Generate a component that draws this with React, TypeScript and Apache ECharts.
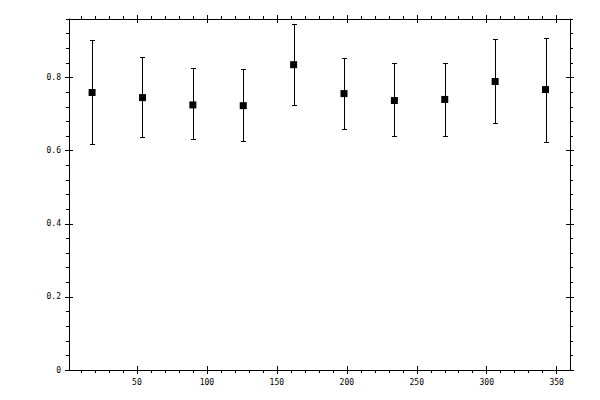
import React, { useEffect, useRef } from "react";
import * as echarts from "echarts";

const xValues = [18, 54, 90, 126, 162, 198, 234, 270, 306, 342];
const yValues = [0.759, 0.745, 0.725, 0.723, 0.835, 0.756, 0.737, 0.74, 0.789, 0.767];
const lowValues = [0.617, 0.636, 0.632, 0.626, 0.726, 0.659, 0.639, 0.639, 0.675, 0.623];
const highValues = [0.903, 0.857, 0.825, 0.822, 0.945, 0.852, 0.839, 0.841, 0.904, 0.909];

const xMajorTicks = [50, 100, 150, 200, 250, 300, 350];
const xMinorTicks = [
  10, 20, 30, 40, 60, 70, 80, 90, 110, 120, 130, 140, 160, 170, 180, 190, 210, 220, 230, 240,
  260, 270, 280, 290, 310, 320, 330, 340,
];
const yMajorTicks = [0, 0.2, 0.4, 0.6, 0.8];
const yMinorTicks = [
  0.04, 0.08, 0.12, 0.16, 0.24, 0.28, 0.32, 0.36, 0.44, 0.48, 0.52, 0.56, 0.64, 0.68, 0.72,
  0.76, 0.84, 0.88, 0.92, 0.96,
];

const X_MIN = 1.5;
const X_MAX = 359.5;
const Y_MIN = 0;
const Y_MAX = 0.96;

const FONT = "DejaVu Sans Mono";

function makeAxis(
  kind: "x" | "y",
  position: string,
  opts: { line?: boolean; ticks: number[]; inside: boolean; len: number; labels?: number[] }
) {
  return {
    type: "value",
    position,
    min: kind === "x" ? X_MIN : Y_MIN,
    max: kind === "x" ? X_MAX : Y_MAX,
    splitLine: { show: false },
    axisLine: { show: !!opts.line, onZero: false, lineStyle: { color: "#000", width: 1 } },
    axisTick: {
      show: true,
      inside: opts.inside,
      length: opts.len,
      customValues: opts.ticks,
      lineStyle: { color: "#000", width: 1 },
    },
    minorTick: { show: false },
    axisLabel: opts.labels
      ? {
          show: true,
          customValues: opts.labels,
          color: "#000",
          fontFamily: FONT,
          fontSize: 8,
          margin: 8,
        }
      : { show: false },
  };
}

export default function App() {
  const ref = useRef<HTMLDivElement>(null);

  useEffect(() => {
    if (!ref.current) return;
    const chart = echarts.init(ref.current, undefined, { renderer: "svg" });

    const xAxis = [
      makeAxis("x", "bottom", { line: true, ticks: xMajorTicks, inside: false, len: 4, labels: xMajorTicks }),
      makeAxis("x", "bottom", { ticks: xMajorTicks, inside: true, len: 4 }),
      makeAxis("x", "bottom", { ticks: xMinorTicks, inside: false, len: 3 }),
      makeAxis("x", "top", { line: true, ticks: xMajorTicks, inside: false, len: 4 }),
      makeAxis("x", "top", { ticks: xMajorTicks, inside: true, len: 4 }),
      makeAxis("x", "top", { ticks: xMinorTicks, inside: false, len: 3 }),
    ];
    const yAxis = [
      makeAxis("y", "left", { line: true, ticks: yMajorTicks, inside: false, len: 4, labels: yMajorTicks }),
      makeAxis("y", "left", { ticks: yMajorTicks, inside: true, len: 4 }),
      makeAxis("y", "left", { ticks: yMinorTicks, inside: false, len: 3 }),
      makeAxis("y", "right", { line: true, ticks: yMajorTicks, inside: false, len: 4 }),
      makeAxis("y", "right", { ticks: yMajorTicks, inside: true, len: 4 }),
      makeAxis("y", "right", { ticks: yMinorTicks, inside: false, len: 3 }),
    ];

    const errData = xValues.map((x, i) => [x, lowValues[i], highValues[i]]);
    const pointData = xValues.map((x, i) => [x, yValues[i]]);

    chart.setOption({
      animation: false,
      backgroundColor: "#fff",
      grid: { left: 69, right: 30, top: 19, bottom: 30, containLabel: false },
      xAxis,
      yAxis,
      series: [
        {
          type: "custom",
          xAxisIndex: 0,
          yAxisIndex: 0,
          data: errData,
          encode: { x: 0, y: [1, 2] },
          z: 2,
          renderItem: (_params: any, api: any) => {
            const x = api.value(0);
            const pLo = api.coord([x, api.value(1)]);
            const pHi = api.coord([x, api.value(2)]);
            const cx = Math.round(pLo[0]) + 0.5;
            const yl = Math.round(pLo[1]) + 0.5;
            const yh = Math.round(pHi[1]) + 0.5;
            const w = 2.5;
            const style = { stroke: "#000", lineWidth: 1 };
            return {
              type: "group",
              children: [
                { type: "line", shape: { x1: cx, y1: yl, x2: cx, y2: yh }, style },
                { type: "line", shape: { x1: cx - w, y1: yl, x2: cx + w, y2: yl }, style },
                { type: "line", shape: { x1: cx - w, y1: yh, x2: cx + w, y2: yh }, style },
              ],
            };
          },
        },
        {
          type: "scatter",
          xAxisIndex: 0,
          yAxisIndex: 0,
          data: pointData,
          symbol: "rect",
          symbolSize: 7,
          itemStyle: { color: "#000", opacity: 1 },
          z: 3,
        },
      ],
    });

    return () => chart.dispose();
  }, []);

  return (
    <div
      ref={ref}
      style={{ position: "absolute", left: 0, top: 0, width: 600, height: 400, background: "#fff" }}
    />
  );
}
